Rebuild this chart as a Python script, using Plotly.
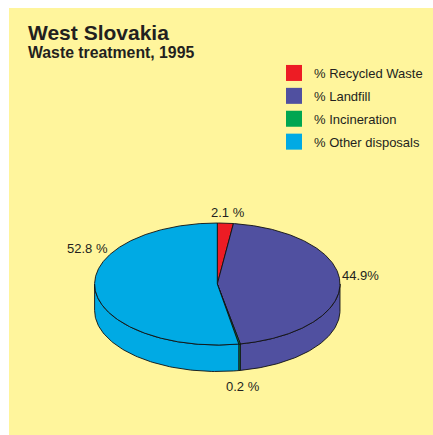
import numpy as np
import plotly.graph_objects as go

# ---- data ----
categories = ["% Recycled Waste", "% Landfill", "% Incineration", "% Other disposals"]
values = [2.1, 44.9, 0.2, 52.8]
value_labels = ["2.1 %", "44.9%", "0.2 %", "52.8 %"]
colors = ["#ED1C24", "#5050A0", "#00A651", "#00AAE4"]

title = "West Slovakia"
subtitle = "Waste treatment, 1995"

# ---- page geometry (pixel space) ----
W, H = 433, 435
cx, cy, rx, ry, depth = 217.3, 284.0, 122.7, 61.0, 26.5

def pt(theta_deg, dy=0.0):
    t = np.radians(theta_deg)
    return cx + rx * np.sin(t), cy - ry * np.cos(t) + dy

fig = go.Figure()

total = sum(values)
bounds = []
acc = 0.0
for v in values:
    a = acc / total * 360
    acc += v
    b = acc / total * 360
    bounds.append((a, b))

# side walls (front half only: 90..270 degrees clockwise from top)
for (a, b), col in zip(bounds, colors):
    s, e = max(a, 90), min(b, 270)
    if e <= s:
        continue
    th = np.linspace(s, e, 80)
    xt, yt = pt(th)
    xb, yb = pt(th[::-1], depth)
    xs = np.concatenate([xt, xb, xt[:1]])
    ys = np.concatenate([yt, yb, yt[:1]])
    fig.add_trace(go.Scatter(x=xs, y=ys, mode="lines", fill="toself",
                             fillcolor=col, line=dict(color="#111", width=0.9),
                             showlegend=False, hoverinfo="skip"))

# top faces
for (a, b), col, name, v in zip(bounds, colors, categories, values):
    th = np.linspace(a, b, max(4, int((b - a) * 2)))
    xa, ya = pt(th)
    xs = np.concatenate([[cx], xa, [cx]])
    ys = np.concatenate([[cy], ya, [cy]])
    fig.add_trace(go.Scatter(x=xs, y=ys, mode="lines", fill="toself",
                             fillcolor=col, line=dict(color="#111", width=0.9),
                             showlegend=False, name=name,
                             hovertemplate=f"{name}: {v}%<extra></extra>"))

# legend entries
for i, (name, col) in enumerate(zip(categories, colors)):
    fig.add_trace(go.Scatter(x=[None], y=[None], mode="markers", name=name,
                             legendgroup=f"g{i}",
                             marker=dict(symbol="square", size=16, color=col,
                                         line=dict(width=0))))

# value labels
label_pos = [(228, 212.5), (360, 275), (243, 386), (87, 248)]
for txt, (lx, ly) in zip(value_labels, label_pos):
    fig.add_annotation(x=lx, y=ly, text=txt, showarrow=False,
                       xanchor="center", yanchor="middle",
                       font=dict(family="Liberation Sans, Arial", size=13, color="#231F20"))

fig.add_annotation(x=26, y=32, text=f"<b>{title}</b>", showarrow=False,
                   xanchor="left", yanchor="middle",
                   font=dict(family="Liberation Sans, Arial", size=21, color="#231F20"))
fig.add_annotation(x=26, y=52, text=f"<b>{subtitle}</b>", showarrow=False,
                   xanchor="left", yanchor="middle",
                   font=dict(family="Liberation Sans, Arial", size=15.8, color="#231F20"))

fig.add_shape(type="rect", x0=9, x1=W, y0=8, y1=H, xref="x", yref="y",
              fillcolor="#FFF59C", line=dict(width=0), layer="below")

fig.update_layout(
    width=W, height=H,
    margin=dict(l=0, r=0, t=0, b=0, autoexpand=False),
    paper_bgcolor="white", plot_bgcolor="rgba(0,0,0,0)",
    xaxis=dict(range=[0, W], visible=False, fixedrange=True),
    yaxis=dict(range=[H, 0], visible=False, fixedrange=True),
    showlegend=True,
    legend=dict(x=274 / W, y=1 - 58 / H, xanchor="left", yanchor="top",
                bgcolor="rgba(0,0,0,0)", tracegroupgap=3,
                font=dict(family="Liberation Sans, Arial", size=13, color="#231F20"),
                itemsizing="trace"),
)

fig.write_html(
    "out.html",
    config={"displayModeBar": False},
    post_script="document.body.style.margin='0';"
                "document.documentElement.style.overflow='hidden';",
)
